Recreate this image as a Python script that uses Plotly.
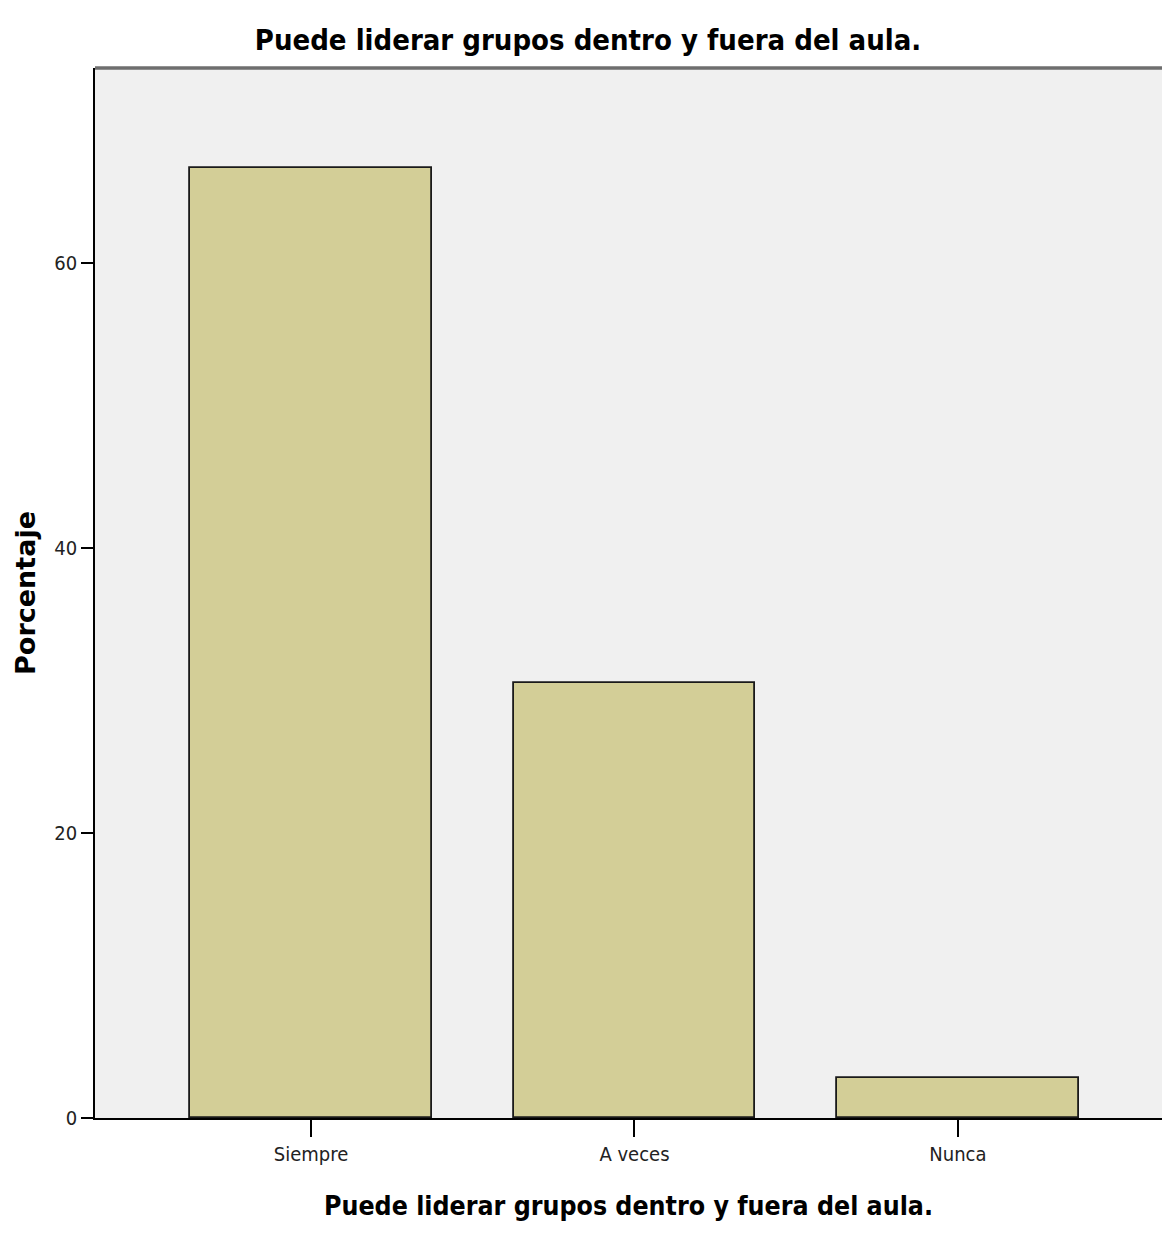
import plotly.graph_objects as go

categories = ["Siempre", "A veces", "Nunca"]
percentages = [66.67, 30.56, 2.78]
y_ticks = [0, 20, 40, 60]

title_text = "Puede liderar grupos dentro y fuera del aula."

W, H = 1162, 1234

fig = go.Figure()
fig.add_trace(go.Bar(
    x=categories,
    y=percentages,
    width=0.748,
    marker=dict(color="#D3CE97", line=dict(color="#1a1a1a", width=1.8)),
    showlegend=False,
))

fig.update_layout(
    width=W,
    height=H,
    margin=dict(l=95, r=0, t=68, b=116),
    paper_bgcolor="white",
    plot_bgcolor="#F0F0F0",
    title=dict(
        text=title_text,
        x=588 / W, xanchor="center",
        y=1 - 40 / H, yanchor="middle",
        font=dict(family="DejaVu Sans Condensed", size=29, color="black", weight="bold"),
    ),
    bargap=0,
)

fig.update_xaxes(
    type="category",
    range=[-0.668, 2.631],
    showgrid=False,
    showline=True, linecolor="black", linewidth=1.8,
    ticks="outside", ticklen=17, tickwidth=1.5, tickcolor="black",
    tickfont=dict(family="DejaVu Sans Condensed", size=20, color="#222"),
    title=dict(text=title_text, standoff=32,
               font=dict(family="DejaVu Sans Condensed", size=26.5, color="black", weight="bold")),
    zeroline=False,
)

fig.update_yaxes(
    range=[0, 73.7],
    tickvals=y_ticks,
    showgrid=False,
    showline=True, linecolor="black", linewidth=1.8,
    ticks="outside", ticklen=12, tickwidth=1.5, tickcolor="black",
    tickfont=dict(family="DejaVu Sans Condensed", size=20, color="#222"),
    title=dict(text="Porcentaje", standoff=11,
               font=dict(family="DejaVu Sans", size=27, color="black", weight="bold")),
    zeroline=False,
)

# top frame line (gray, thick)
fig.add_shape(type="line", xref="paper", yref="paper", x0=0, x1=1, y0=1, y1=1,
              line=dict(color="#6e6e6e", width=3.5))

fig.write_html(
    "out.html",
    config={"displayModeBar": False},
    post_script="document.body.style.margin='0';document.body.style.overflow='hidden';",
)
